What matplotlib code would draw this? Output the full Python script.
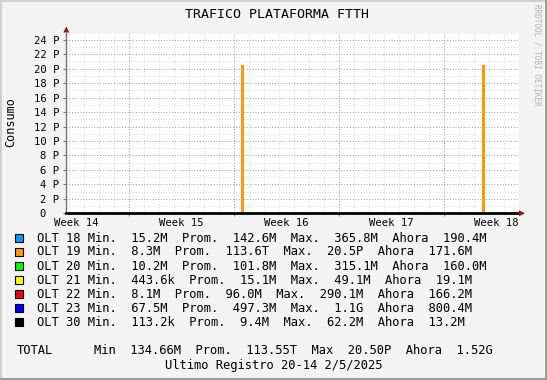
import numpy as np
import matplotlib
matplotlib.use("Agg")
import matplotlib.pyplot as plt
from matplotlib.patches import Rectangle, Polygon

W, H = 547, 380
MONO = "DejaVu Sans Mono"

# chart data (time axis in days, 0 = start of week 15; values in peta)
week_labels = ["Week 14", "Week 15", "Week 16", "Week 17", "Week 18"]
week_label_days = [-3.5, 3.5, 10.5, 17.5, 24.5]
week_start_days = [0, 7, 14, 21]
spike_days = [7.58, 23.64]
spike_peta = [20.5, 20.5]
y_ticks = [0, 2, 4, 6, 8, 10, 12, 14, 16, 18, 20, 22, 24]

olt_names = ["OLT 18", "OLT 19", "OLT 20", "OLT 21", "OLT 22", "OLT 23", "OLT 30"]
olt_colors = ["#0099ff", "#ff9900", "#00ff00", "#ffff00", "#ff0000", "#0000ff", "#000000"]
olt_min = ["15.2M", "8.3M", "10.2M", "443.6k", "8.1M", "67.5M", "113.2k"]
olt_prom = ["142.6M", "113.6T", "101.8M", "15.1M", "96.0M", "497.3M", "9.4M"]
olt_max = ["365.8M", "20.5P", "315.1M", "49.1M", "290.1M", "1.1G", "62.2M"]
olt_ahora = ["190.4M", "171.6M", "160.0M", "19.1M", "166.2M", "800.4M", "13.2M"]

total = {"Min": "134.66M", "Prom.": "113.55T", "Max": "20.50P", "Ahora": "1.52G"}


def fx(x):
    return x / W


def fy(y):
    return 1 - y / H


fig = plt.figure(figsize=(W / 100, H / 100), dpi=100, facecolor="#f3f3f3")

# frame shading
fig.add_artist(Rectangle((0, 0), fx(2), 1, transform=fig.transFigure, color="#cfcfcf", lw=0))
fig.add_artist(Rectangle((0, fy(2)), 1, 2 / H, transform=fig.transFigure, color="#cfcfcf", lw=0))
fig.add_artist(Rectangle((fx(545), 0), fx(2), 1, transform=fig.transFigure, color="#9e9e9e", lw=0))
fig.add_artist(Rectangle((0, 0), 1, 2 / H, transform=fig.transFigure, color="#9e9e9e", lw=0))

x0, x1 = 66.3, 519
y_top, y_bot = 32.5, 213.3
ax = fig.add_axes([fx(x0), fy(y_bot), (x1 - x0) / W, (y_bot - y_top) / H])
ax.set_facecolor("white")
ax.set_xlim(-4.16, 26.02)
ax.set_ylim(0, 25)

# grid
for d in np.arange(-4, 27):
    if d in week_start_days:
        continue
    ax.axvline(d, color="#dedede", lw=0.8, ls=(0, (1, 1.5)), zorder=1)
for v in range(1, 26):
    if v % 2 == 1:
        ax.axhline(v, color="#dedede", lw=0.8, ls=(0, (1, 1.5)), zorder=1)
for d in week_start_days:
    ax.axvline(d, color="#ababab", lw=0.8, ls=(0, (1, 1.5)), zorder=1.5)
for v in y_ticks[1:]:
    ax.axhline(v, color="#ababab", lw=0.8, ls=(0, (1, 1.5)), zorder=1.5)

# data
ax.bar(spike_days, spike_peta, width=0.18, color="#ff9900", zorder=3)

for s in ["top", "right"]:
    ax.spines[s].set_visible(False)
ax.spines["left"].set_color("#777777")
ax.spines["left"].set_linewidth(1.0)
ax.spines["bottom"].set_color("black")
ax.spines["bottom"].set_linewidth(2.0)
ax.spines["bottom"].set_zorder(4)

ax.set_xticks(week_label_days)
ax.set_xticklabels(week_labels, fontfamily=MONO, fontsize=7.6)
ax.set_xticks(week_start_days, minor=True)
ax.tick_params(axis="x", which="major", length=0, pad=3.2)
ax.tick_params(axis="x", which="minor", length=2, color="#777777")
ax.set_yticks(y_ticks)
ax.set_yticklabels(["0  " if v == 0 else f"{v} P" for v in y_ticks], fontfamily=MONO, fontsize=7.6)
ax.tick_params(axis="y", length=2, color="#777777", pad=3)

# arrows
red = "#9a1414"
fig.add_artist(Polygon([(fx(x0 - 3), fy(y_top)), (fx(x0 + 3), fy(y_top)), (fx(x0), fy(y_top - 6))],
                       closed=True, transform=fig.transFigure, color=red, lw=0))
fig.add_artist(Polygon([(fx(x1), fy(y_bot - 3)), (fx(x1), fy(y_bot + 3)), (fx(x1 + 6), fy(y_bot))],
                       closed=True, transform=fig.transFigure, color=red, lw=0))

# titles
fig.text(fx(277), fy(14), "TRAFICO PLATAFORMA FTTH", fontfamily=MONO, fontsize=9.5,
         ha="center", va="center")
fig.text(fx(11), fy(122), "Consumo", fontfamily=MONO, fontsize=8.5, rotation=90,
         ha="center", va="center")
fig.text(fx(537), fy(4), "RRDTOOL / TOBI OETIKER", fontfamily=MONO, fontsize=5.5,
         rotation=-90, ha="center", va="top", color="#b4b4b4")

# legend
row_y = [238.3, 252, 266.3, 280, 294.3, 308, 322.3]
for i, name in enumerate(olt_names):
    y = row_y[i]
    fig.add_artist(Rectangle((fx(15), fy(y + 4)), 8 / W, 8 / H, transform=fig.transFigure,
                             facecolor=olt_colors[i], edgecolor="black", lw=0.8))
    line = (f"{name} Min.  {olt_min[i]}  Prom.  {olt_prom[i]}  "
            f"Max.  {olt_max[i]}  Ahora  {olt_ahora[i]}")
    fig.text(fx(37.3), fy(y), line, fontfamily=MONO, fontsize=8.7, ha="left", va="center")

fig.text(fx(16.4), fy(350.7), "TOTAL", fontfamily=MONO, fontsize=8.7, ha="left", va="center")
total_line = "  ".join(f"{k}  {v}" for k, v in total.items())
fig.text(fx(93.5), fy(350.7), total_line, fontfamily=MONO, fontsize=8.7, ha="left", va="center")
fig.text(fx(274), fy(365.7), "Ultimo Registro 20-14 2/5/2025", fontfamily=MONO, fontsize=8.7,
         ha="center", va="center")

fig.savefig("out.png", dpi=100, facecolor=fig.get_facecolor())
